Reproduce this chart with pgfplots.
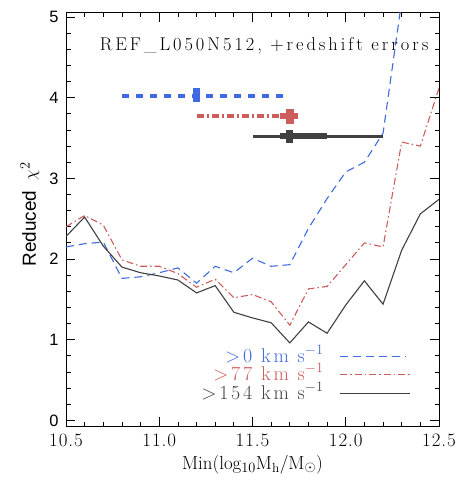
\documentclass[border=0pt]{standalone}
\usepackage{fontspec}
\usepackage{pgfplots}
\pgfplotsset{compat=1.18}
\usetikzlibrary{calc}
\newfontfamily\hv{Liberation Sans}
\newfontfamily\lmtitle[LetterSpace=16]{Latin Modern Roman}
\newfontfamily\lmleg[LetterSpace=14]{Latin Modern Roman}
\newfontfamily\lmtick[LetterSpace=5]{Latin Modern Roman}
\definecolor{cblue}{RGB}{65,105,225}
\definecolor{cred}{RGB}{205,92,92}
\definecolor{cgray}{RGB}{64,64,64}
\begin{document}
\begin{tikzpicture}
\begin{axis}[
  scale only axis, width=373bp, height=413bp,
  xmin=10.5, xmax=12.5, ymin=-0.07, ymax=5.05,
  xtick={10.5,11,11.5,12,12.5}, ytick={0,1,2,3,4,5},
  minor x tick num=4, minor y tick num=4,
  xtick pos=both, ytick pos=both, tick align=inside,
  major tick length=9bp, minor tick length=4.5bp,
  axis line style={line width=1bp},
  every tick/.style={line width=0.8bp, black},
  /pgf/number format/assume math mode=true,
  x tick label style={font=\lmtick\fontsize{19}{22}\selectfont, yshift=-4bp, /pgf/number format/fixed, /pgf/number format/fixed zerofill, /pgf/number format/precision=1},
  y tick label style={font=\hv\fontsize{16.5}{20}\selectfont, xshift=-4bp},
  xlabel={Min(log$_{10}$M$_{\mathrm{h}}$/M$_{\odot}$)},
  xlabel style={font=\fontsize{19}{22}\selectfont, yshift=-2bp},
  ylabel={Reduced\ \ $\chi^{2}$},
  every axis y label/.style={at={(rel axis cs:-0.097,0.513)}, anchor=center, rotate=90, font=\hv\fontsize{19}{22}\selectfont},
]
% main curves
\addplot[cblue, line width=1.1bp, dash pattern=on 8bp off 5bp] coordinates {
(10.5,2.15) (10.6,2.19) (10.7,2.21) (10.8,1.76) (10.9,1.78) (11.0,1.83) (11.1,1.89)
(11.2,1.70) (11.3,1.91) (11.4,1.83) (11.5,2.01) (11.6,1.91) (11.7,1.93) (11.8,2.38)
(11.9,2.75) (12.0,3.08) (12.1,3.20) (12.2,3.56) (12.3,5.20) (12.4,6.00) (12.5,6.50)};
\addplot[cred, line width=1.1bp, dash pattern=on 7bp off 3bp on 1.5bp off 3bp] coordinates {
(10.5,2.40) (10.6,2.54) (10.7,2.42) (10.8,1.99) (10.9,1.91) (11.0,1.91) (11.1,1.82)
(11.2,1.65) (11.3,1.75) (11.4,1.52) (11.5,1.56) (11.6,1.47) (11.7,1.18) (11.8,1.63)
(11.9,1.66) (12.0,1.93) (12.1,2.20) (12.2,2.15) (12.3,3.45) (12.4,3.40) (12.5,4.12)};
\addplot[cgray, line width=1.1bp] coordinates {
(10.5,2.28) (10.6,2.52) (10.7,2.16) (10.8,1.90) (10.9,1.83) (11.0,1.79) (11.1,1.74)
(11.2,1.58) (11.3,1.67) (11.4,1.34) (11.5,1.27) (11.6,1.21) (11.7,0.96) (11.8,1.22)
(11.9,1.08) (12.0,1.43) (12.1,1.73) (12.2,1.44) (12.3,2.11) (12.4,2.56) (12.5,2.74)};
% range bars
\addplot[cblue, line width=4.7bp, dash pattern=on 7bp off 7bp] coordinates {(10.8,4.02) (11.7,4.02)};
\addplot[cblue, line width=7bp] coordinates {(11.2,3.945) (11.2,4.12)};
\addplot[cred, line width=3.5bp, dash pattern=on 7bp off 3bp on 2bp off 3bp] coordinates {(11.2,3.775) (11.64,3.775)};
\addplot[cred, line width=6bp] coordinates {(11.645,3.775) (11.745,3.775)};
\addplot[cred, line width=8bp] coordinates {(11.7,3.68) (11.7,3.86)};
\addplot[cgray, line width=2.5bp] coordinates {(11.503,3.52) (12.2,3.52)};
\addplot[cgray, line width=6bp] coordinates {(11.647,3.52) (11.9,3.52)};
\addplot[cgray, line width=7bp] coordinates {(11.7,3.44) (11.7,3.60)};
% legend samples
\addplot[cblue, line width=1.1bp, dash pattern=on 8bp off 5bp] coordinates {(11.97,0.79) (12.32,0.79)};
\addplot[cred, line width=1.1bp, dash pattern=on 7bp off 3bp on 1.5bp off 3bp] coordinates {(11.97,0.57) (12.345,0.57)};
\addplot[cgray, line width=1.1bp] coordinates {(11.97,0.335) (12.345,0.335)};
\node[anchor=base east, text=cblue, font=\lmleg\fontsize{20}{23}\selectfont] at (axis cs:11.90,0.723) {\textgreater0 km s$^{-1}$};
\node[anchor=base east, text=cred, font=\lmleg\fontsize{20}{23}\selectfont] at (axis cs:11.90,0.496) {\textgreater77 km s$^{-1}$};
\node[anchor=base east, text=cgray, font=\lmleg\fontsize{20}{23}\selectfont] at (axis cs:11.90,0.26) {\textgreater154 km s$^{-1}$};
\node[anchor=base east, font=\lmtitle\fontsize{18.5}{21}\selectfont] at (axis cs:12.462,4.59) {REF\_L050N512, +redshift errors};
\end{axis}
\pgfresetboundingbox
\path[use as bounding box] ($(current axis.south west)+(-66bp,-60bp)$) rectangle ($(current axis.north east)+(22bp,13bp)$);
\end{tikzpicture}
\end{document}
